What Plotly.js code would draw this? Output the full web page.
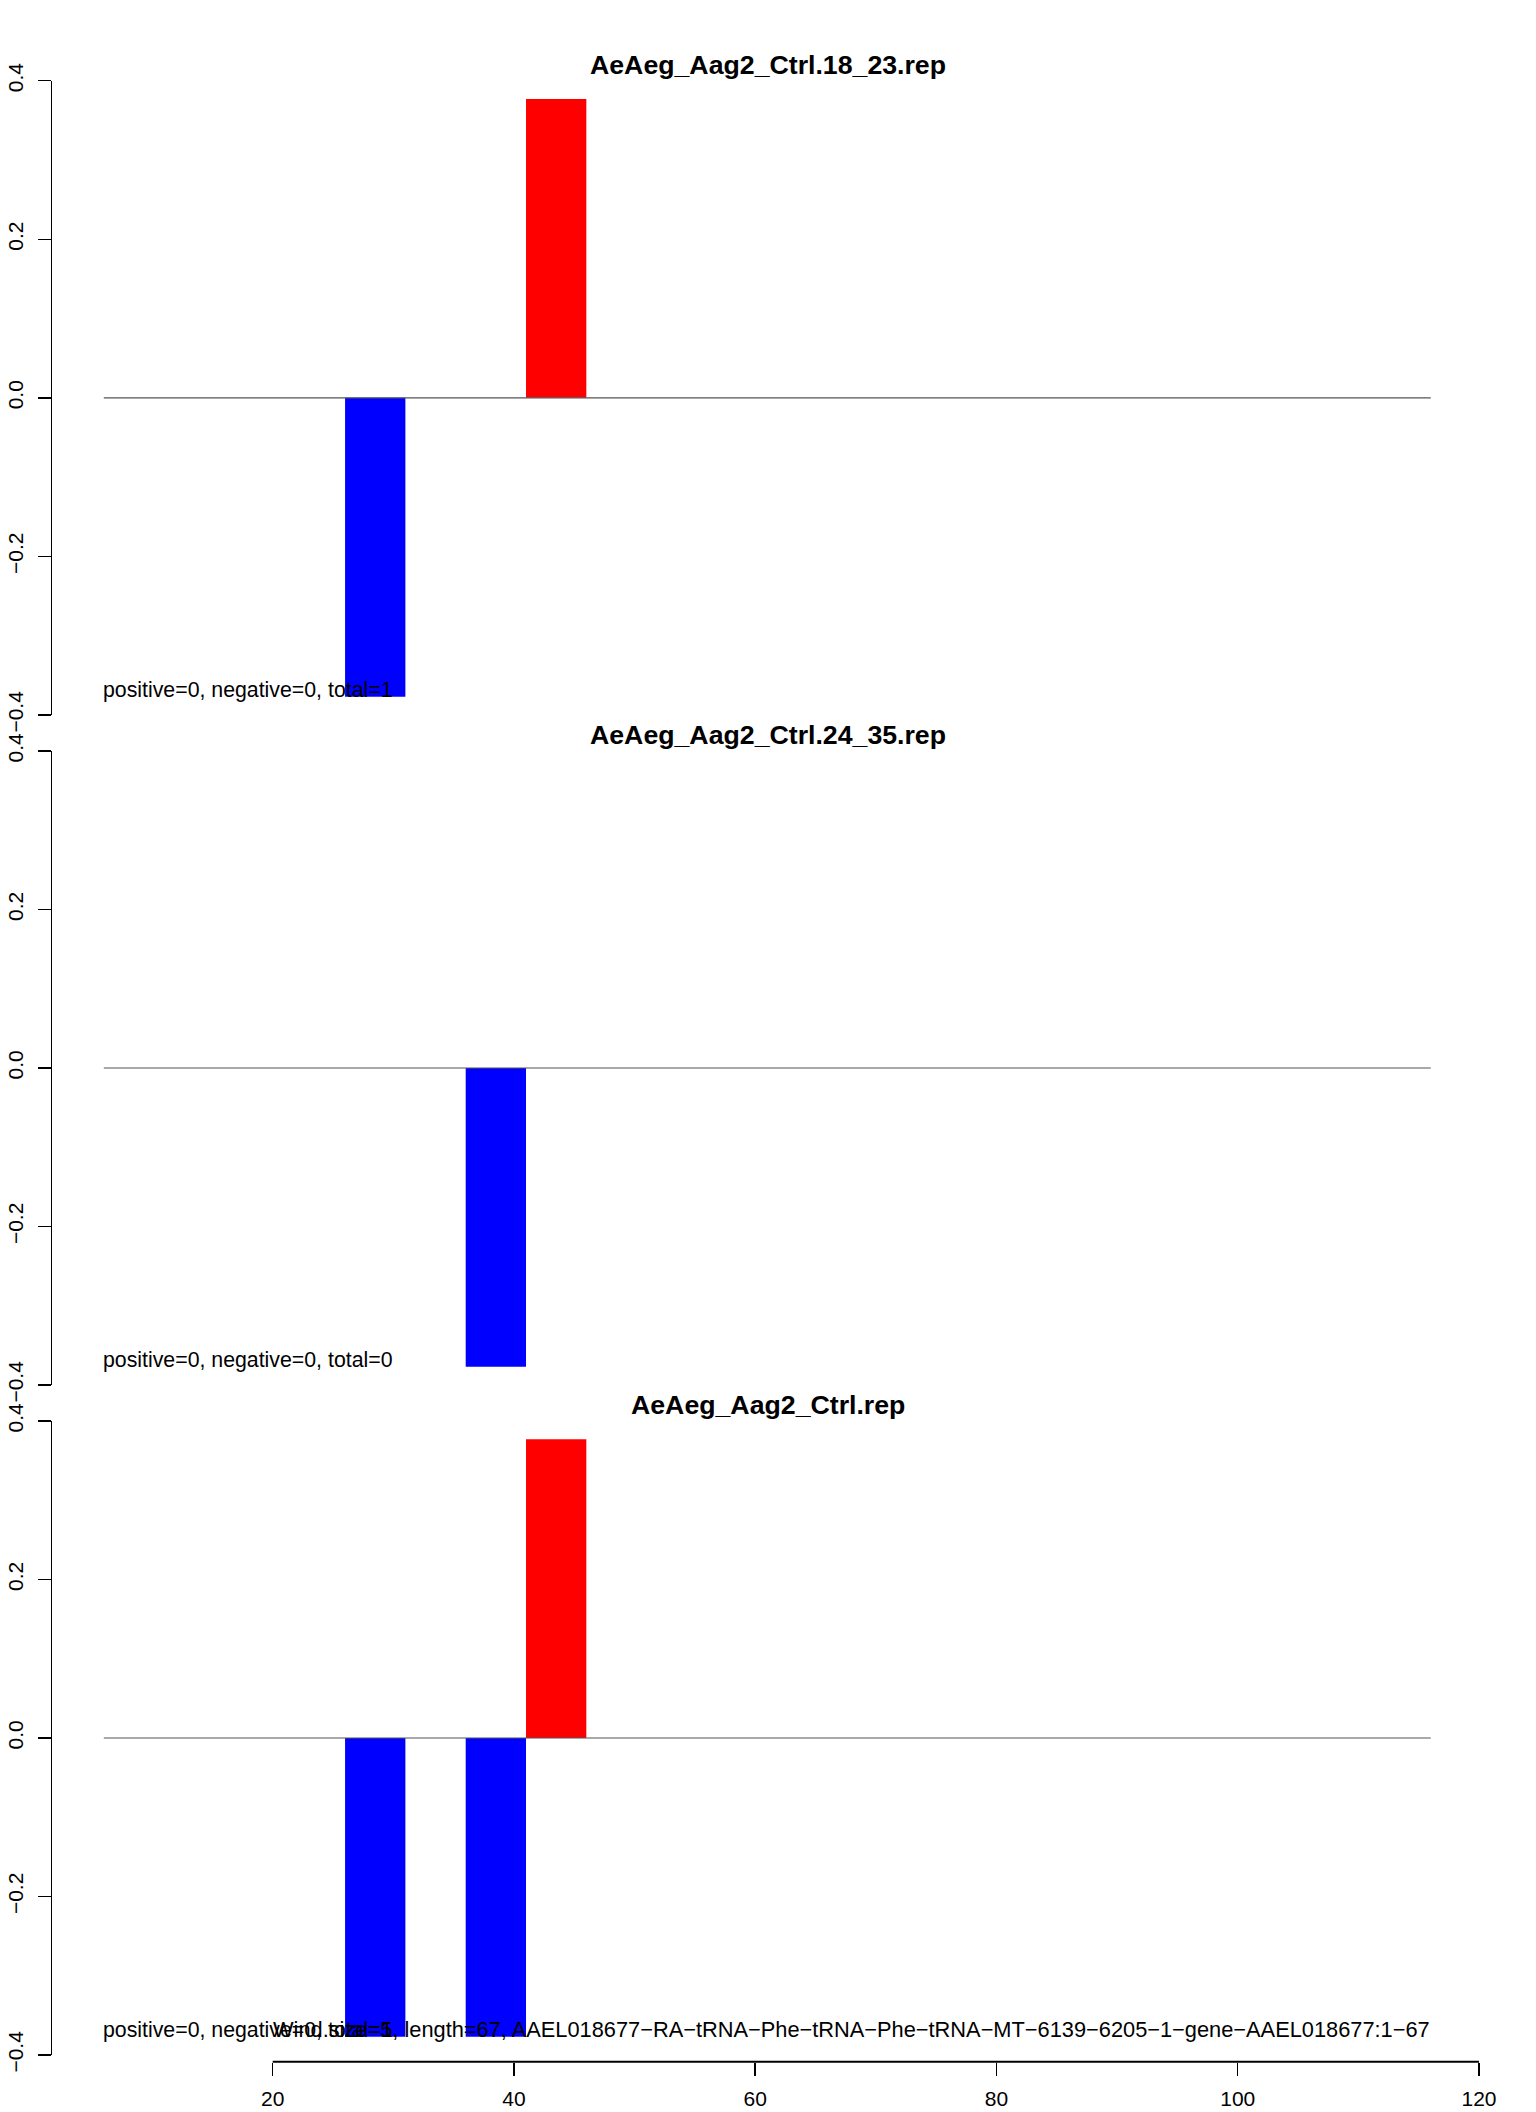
<!DOCTYPE html>
<html>
<head>
<meta charset="utf-8">
<script src="https://cdn.plot.ly/plotly-3.0.1.min.js"></script>
<style>html,body{margin:0;padding:0;background:#fff;}#chart{width:1536px;height:2112px;}</style>
</head>
<body>
<div id="chart"></div>
<script>
// ---- data ----
const panelTitles = ["AeAeg_Aag2_Ctrl.18_23.rep", "AeAeg_Aag2_Ctrl.24_35.rep", "AeAeg_Aag2_Ctrl.rep"];
const panelNotes = ["positive=0, negative=0, total=1", "positive=0, negative=0, total=0", "positive=0, negative=0, total=1"];
// bar centres (window start + 2.5, window size 5) and heights
const p1NegX = [28.5];        const p1NegY = [-0.377];
const p1PosX = [43.5];        const p1PosY = [0.377];
const p2NegX = [38.5];        const p2NegY = [-0.377];
const p2PosX = [];            const p2PosY = [];
const p3NegX = [28.5, 38.5];  const p3NegY = [-0.377, -0.377];
const p3PosX = [43.5];        const p3PosY = [0.377];
const windowSize = 5;
const baselineFrom = 6, baselineTo = 116;
const xTicks = [20, 40, 60, 80, 100, 120];
const yTicks = [-0.4, -0.2, 0, 0.2, 0.4];
const footer = "Wind.size=5, length=67, AAEL018677\u2212RA\u2212tRNA\u2212Phe\u2212tRNA\u2212Phe\u2212tRNA\u2212MT\u22126139\u22126205\u22121\u2212gene\u2212AAEL018677:1\u221267";

const FONT = "Liberation Sans, Arial, Helvetica, sans-serif";
const negX = [p1NegX, p2NegX, p3NegX], negY = [p1NegY, p2NegY, p3NegY];
const posX = [p1PosX, p2PosX, p3PosX], posY = [p1PosY, p2PosY, p3PosY];
const yNames = ["y", "y2", "y3"];
const domains = [[0.66146, 0.96179], [0.34422, 0.64441], [0.02699, 0.32718]];

const traces = [];
for (let i = 0; i < 3; i++) {
  traces.push({type: "bar", x: negX[i], y: negY[i], width: windowSize, xaxis: "x", yaxis: yNames[i],
    marker: {color: "#0000FF", line: {width: 0}}, hoverinfo: "x+y"});
  traces.push({type: "bar", x: posX[i], y: posY[i], width: windowSize, xaxis: "x", yaxis: yNames[i],
    marker: {color: "#FF0000", line: {width: 0}}, hoverinfo: "x+y"});
}

const yAxisBase = (d) => ({
  domain: d, range: [-0.4, 0.4], anchor: "free", position: 0.033,
  showgrid: false, zeroline: false, showline: true, linecolor: "#000", linewidth: 1.5,
  ticks: "outside", ticklen: 13, tickwidth: 1.5, tickcolor: "#000",
  tickvals: yTicks, tickformat: ".1f", tickangle: -90, ticklabelstandoff: 6,
  tickfont: {family: FONT, size: 21, color: "#000"}, fixedrange: true
});

const shapes = [];
const annotations = [];
for (let i = 0; i < 3; i++) {
  shapes.push({type: "line", xref: "x", yref: yNames[i], x0: baselineFrom, x1: baselineTo, y0: 0, y1: 0,
    line: {color: "#555555", width: 1.2}, layer: "above"});
  annotations.push({xref: "paper", yref: yNames[i] + " domain", x: 0.5, y: 1.025, xanchor: "center", yanchor: "middle",
    text: "<b>" + panelTitles[i] + "</b>", showarrow: false, font: {family: FONT, size: 26.7, color: "#000"}});
  annotations.push({xref: "x", yref: yNames[i], x: baselineFrom - 0.2, y: -0.368, xanchor: "left", yanchor: "middle",
    text: panelNotes[i], showarrow: false, font: {family: FONT, size: 21.3, color: "#000"}});
}
annotations.push({xref: "x", yref: "y3", x: 68, y: -0.368, xanchor: "center", yanchor: "middle",
  text: footer, showarrow: false, font: {family: FONT, size: 21.8, color: "#000"}});
// bottom axis line spanning the tick range only
shapes.push({type: "line", xref: "x", yref: "paper", x0: xTicks[0], x1: xTicks[xTicks.length - 1],
  y0: 0.02382, y1: 0.02382, line: {color: "#000", width: 2}});

const layout = {
  width: 1536, height: 2112, margin: {l: 0, r: 0, t: 0, b: 0, pad: 0},
  paper_bgcolor: "#fff", plot_bgcolor: "#fff", showlegend: false, barmode: "overlay",
  font: {family: FONT, color: "#000"},
  xaxis: {domain: [0, 1], range: [-2.606, 124.727], anchor: "free", position: 0.02382,
    showgrid: false, zeroline: false, showline: false,
    ticks: "outside", ticklen: 13, tickwidth: 1.5, tickcolor: "#000", tickvals: xTicks,
    ticklabelstandoff: 5, tickfont: {family: FONT, size: 21, color: "#000"}, fixedrange: true},
  yaxis: yAxisBase(domains[0]),
  yaxis2: yAxisBase(domains[1]),
  yaxis3: yAxisBase(domains[2]),
  shapes: shapes,
  annotations: annotations
};

Plotly.newPlot("chart", traces, layout, {staticPlot: true});
</script>
</body>
</html>
